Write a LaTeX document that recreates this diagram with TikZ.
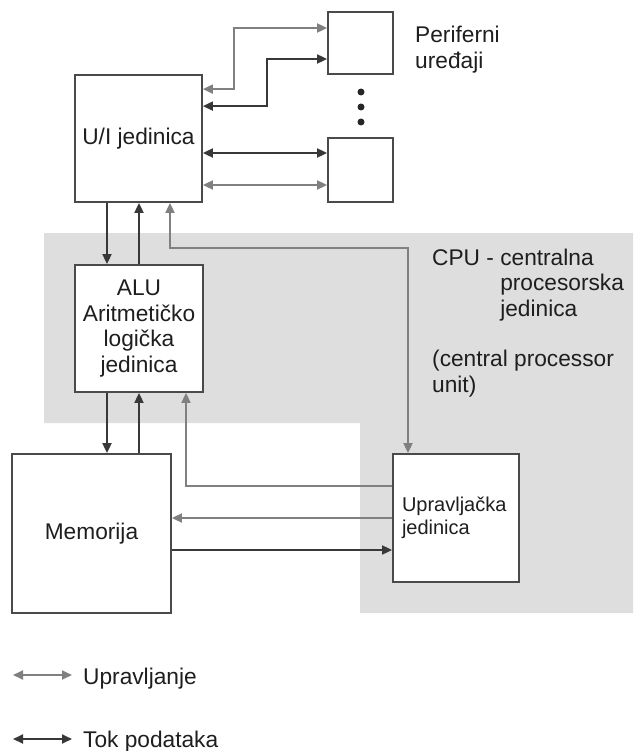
\documentclass[tikz,border=0pt]{standalone}
\usepackage{fontspec}
\setmainfont{Liberation Sans}
\usetikzlibrary{arrows.meta,positioning}
\definecolor{cpugray}{HTML}{DEDEDE}
\definecolor{ctrlgray}{HTML}{808080}
\definecolor{datagray}{HTML}{383838}
\definecolor{boxline}{HTML}{4A4A4A}
\definecolor{txt}{HTML}{1E1E1E}

\begin{document}
\begin{tikzpicture}[
    x=1pt, y=-1pt,
    font=\fontsize{22.7}{25.6}\selectfont, text=txt,
    unitbox/.style={draw=boxline, line width=1.8pt, fill=white, rectangle, inner sep=0pt, align=center},
    ctrl/.style={draw=ctrlgray, line width=1.8pt, >={Triangle[length=10pt,width=9pt]}},
    data/.style={draw=datagray, line width=1.8pt, >={Triangle[length=10pt,width=9pt]}},
    plaintext/.style={inner sep=0pt, align=left}
]

% --- Frame ---
\path[fill=white, use as bounding box] (0,0) rectangle (633,751);

% --- CPU area ---
\fill[cpugray] (44,233) -- (633,233) -- (633,613) -- (360,613) -- (360,423) -- (44,423) -- cycle;

% --- Units ---
\node[unitbox, minimum width=127pt, minimum height=127pt] (uij) at (138.5,138.5) {U/I jedinica};
\node[unitbox, minimum width=128pt, minimum height=127pt] (alu) at (139,328.5)
  {ALU\\Aritmetičko\\logička\\jedinica};
\node[unitbox, minimum width=159pt, minimum height=159pt] (mem) at (91.5,533.5) {Memorija};
\node[unitbox, minimum width=126pt, minimum height=128pt, text width=108pt, align=left,
  font=\fontsize{20}{22.5}\selectfont] (upr) at (456,518) {Upravljačka\\jedinica};

% --- Peripherals ---
\node[unitbox, minimum width=65pt, minimum height=62pt] (per1) at (360.5,43) {};
\node[unitbox, minimum width=65pt, minimum height=64pt] (per2) at (360.5,170) {};
\foreach \y in {92,107,122}
  \fill[black!85] (361,\y) circle (3.5pt);

% --- Labels (anchored at the last line) ---
\node[plaintext, anchor=base west] (perlbl) at (415,68.6) {Periferni\\uređaji};
\node[plaintext, anchor=base west] (cpulbl) at (432,392)
  {CPU - centralna\\\phantom{CPU - }procesorska\\\phantom{CPU - }jedinica\\[24.5pt]
   (central processor\\unit)};

% --- Arrows ---
\draw[ctrl, <->] ([yshift=-15pt]uij.north east) -- ++(31,0) |- ([yshift=15pt]per1.west);
\draw[data, <->] ([yshift=-32pt]uij.north east) -- ++(64,0) |- ([yshift=-16pt]per1.west);
\draw[data, <->] ([yshift=17pt]per2.west -| uij.east) -- ([yshift=17pt]per2.west);
\draw[ctrl, <->] ([yshift=-15pt]per2.west -| uij.east) -- ([yshift=-15pt]per2.west);

\draw[data, ->] ([xshift=-31.5pt]uij.south) -- ([xshift=-31.5pt]uij.south |- alu.north);
\draw[data, ->] (alu.north) -- (alu.north |- uij.south);
\draw[ctrl, <->] ([xshift=-48pt]upr.north) -- ++(0,-205) -| ([xshift=31.5pt]uij.south);

\draw[data, ->] ([xshift=-32pt]alu.south) -- ([xshift=-32pt]alu.south |- mem.north);
\draw[data, ->] (alu.south |- mem.north) -- (alu.south);
\draw[ctrl, ->] ([yshift=32pt]upr.west) -| ([xshift=47pt]alu.south);
\draw[ctrl, ->] (upr.west) -- (upr.west -| mem.east);
\draw[data, ->] ([yshift=-32pt]upr.west -| mem.east) -- ([yshift=-32pt]upr.west);

% --- Legend ---
\coordinate (ctrla) at (13,675);
\coordinate (ctrlb) at (72,675);
\node[plaintext, anchor=base west] (ctrllbl) at (83,684) {Upravljanje};
\coordinate (dataa) at (13,739);
\coordinate (datab) at (72,739);
\node[plaintext, anchor=base west] (datalbl) at (83,747) {Tok podataka};
\draw[ctrl, <->] (ctrla) -- (ctrlb);
\draw[data, <->] (dataa) -- (datab);

\end{tikzpicture}
\end{document}
